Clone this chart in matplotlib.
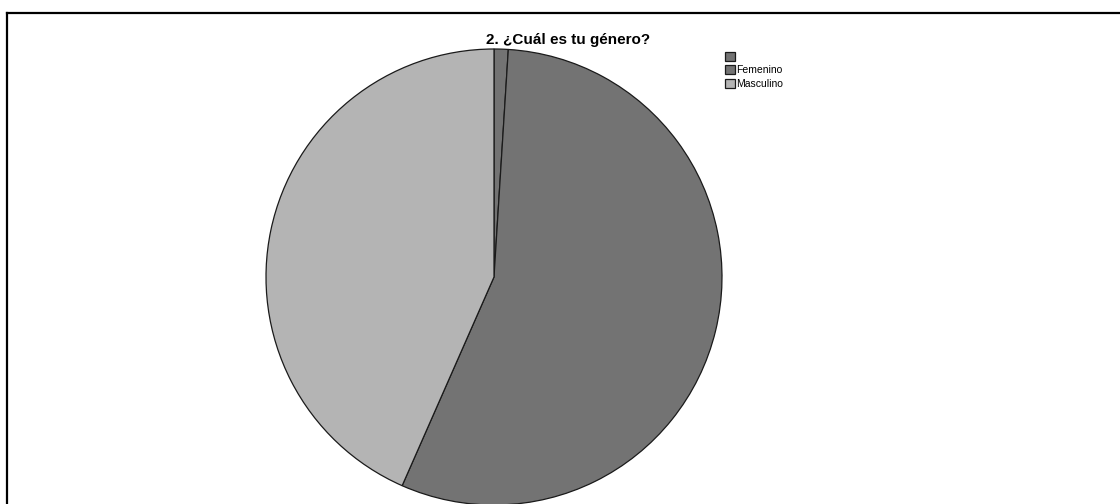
import matplotlib
matplotlib.use("Agg")
import matplotlib.pyplot as plt
from matplotlib.lines import Line2D

plt.rcParams['font.family'] = ['Liberation Sans', 'DejaVu Sans']

# Survey answers to "¿Cuál es tu género?" (percent of respondents)
categories = ["", "Femenino", "Masculino"]
percentages = [1.0, 55.6, 43.4]
colors = ["#737373", "#737373", "#b4b4b4"]

W, H, DPI = 1120, 504, 100
fig = plt.figure(figsize=(W / DPI, H / DPI), dpi=DPI)
fig.patch.set_facecolor("white")

# Pie area: center (494, 277) px, radius 228 px
cx, cy, r = 494, 277, 228
ax = fig.add_axes([(cx - r) / W, (H - cy - r) / H, 2 * r / W, 2 * r / H])
wedges, _ = ax.pie(
    percentages,
    colors=colors,
    startangle=90,
    counterclock=False,
    wedgeprops=dict(edgecolor="#1a1a1a", linewidth=0.9),
)
ax.set_xlim(-1.0, 1.0)
ax.set_ylim(-1.0, 1.0)
ax.set_aspect("equal")
ax.axis("off")

# Title
fig.text(568 / W, 1 - 44 / H, "2. ¿Cuál es tu género?", ha="center",
         va="baseline", fontsize=11, fontweight="bold", color="black")

# Legend
leg = fig.legend(
    wedges, categories,
    loc="upper left",
    bbox_to_anchor=(725 / W, 1 - 52 / H),
    frameon=False,
    fontsize=7.5,
    handlelength=0.95,
    handleheight=0.95,
    handletextpad=0.15,
    labelspacing=0.32,
    borderpad=0.0,
    borderaxespad=0.0,
)

# Frame lines (top and left)
fig.add_artist(Line2D([7 / W, 1.0], [1 - 13 / H, 1 - 13 / H],
                      transform=fig.transFigure, color="black", linewidth=1.6))
fig.add_artist(Line2D([7 / W, 7 / W], [1 - 13 / H, 0.0],
                      transform=fig.transFigure, color="black", linewidth=1.6))

fig.savefig("out.png", dpi=DPI, facecolor="white")
